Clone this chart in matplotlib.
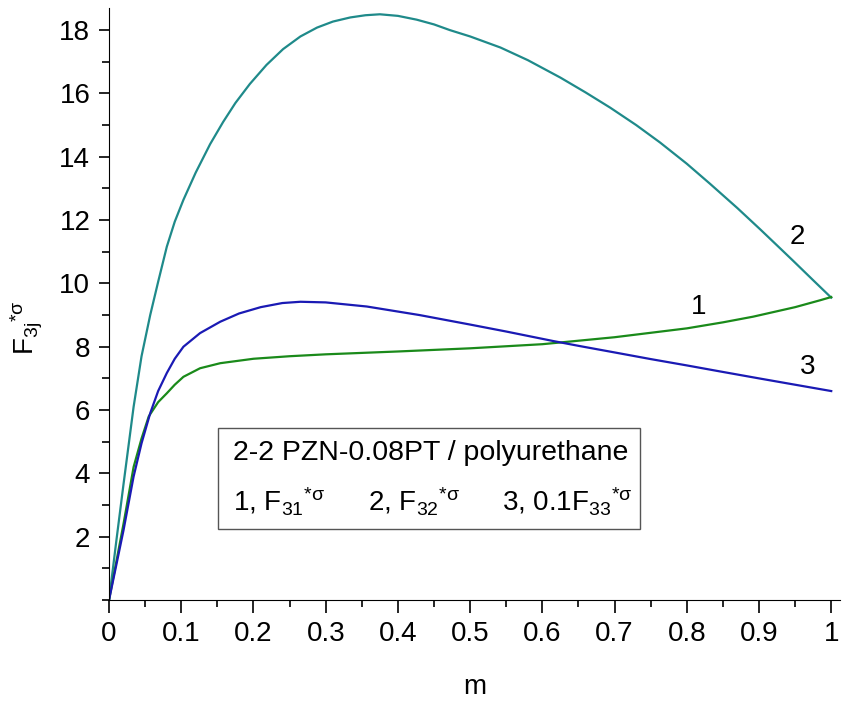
import numpy as np
import matplotlib.pyplot as plt
from matplotlib.patches import Rectangle
from matplotlib.ticker import MultipleLocator

plt.rcParams['font.family'] = 'Liberation Sans'
plt.rcParams['mathtext.fontset'] = 'custom'
plt.rcParams['mathtext.rm'] = 'Liberation Sans'
plt.rcParams['mathtext.it'] = 'Liberation Sans'
plt.rcParams['mathtext.bf'] = 'Liberation Sans:bold'

# curve 1, F31*sigma (green)
m1 = [0, 0.01, 0.02, 0.034, 0.045, 0.055, 0.068, 0.08, 0.091, 0.103, 0.126,
      0.154, 0.2, 0.25, 0.3, 0.4, 0.5, 0.6, 0.7, 0.8, 0.85, 0.892, 0.95, 0.985, 1.0]
f1 = [0, 1.2, 2.4, 4.2, 5.1, 5.8, 6.25, 6.53, 6.8, 7.05, 7.32,
      7.48, 7.62, 7.7, 7.76, 7.85, 7.95, 8.08, 8.3, 8.58, 8.77, 8.95, 9.25, 9.47, 9.57]

# curve 2, F32*sigma (teal)
m2 = [0, 0.01, 0.02, 0.034, 0.045, 0.057, 0.068, 0.08, 0.091, 0.103, 0.12,
      0.14, 0.158, 0.175, 0.195, 0.218, 0.241, 0.265, 0.288, 0.31, 0.334,
      0.355, 0.375, 0.4, 0.426, 0.45, 0.472, 0.5, 0.542, 0.58, 0.625, 0.66,
      0.694, 0.73, 0.763, 0.8, 0.832, 0.87, 0.902, 0.925, 0.947, 0.975, 1.0]
f2 = [0, 1.85, 3.65, 6.1, 7.7, 9.0, 10.05, 11.16, 11.95, 12.64, 13.5,
      14.4, 15.1, 15.7, 16.3, 16.9, 17.4, 17.8, 18.08, 18.27, 18.4,
      18.47, 18.5, 18.45, 18.33, 18.18, 18.0, 17.8, 17.45, 17.05, 16.5, 16.03,
      15.55, 15.0, 14.45, 13.78, 13.15, 12.38, 11.7, 11.2, 10.72, 10.1, 9.55]

# curve 3, 0.1F33*sigma (blue)
m3 = [0, 0.01, 0.02, 0.034, 0.045, 0.057, 0.068, 0.08, 0.091, 0.103, 0.126,
      0.154, 0.18, 0.21, 0.24, 0.265, 0.3, 0.357, 0.43, 0.5, 0.55, 0.615,
      0.652, 0.7, 0.75, 0.8, 0.846, 0.9, 0.95, 1.0]
f3 = [0, 1.1, 2.2, 3.9, 4.95, 5.9, 6.6, 7.17, 7.62, 8.0, 8.43,
      8.79, 9.05, 9.25, 9.38, 9.42, 9.4, 9.27, 9.0, 8.7, 8.48, 8.18,
      8.02, 7.82, 7.61, 7.41, 7.22, 7.0, 6.8, 6.6]

fig = plt.figure(figsize=(8.42, 7.04), dpi=100)
ax = fig.add_axes([0.1295, 0.1477, 0.868, 0.841])

ax.plot(m2, f2, color='#1f8a8a', lw=1.6)
ax.plot(m1, f1, color='#1a8a1a', lw=1.6)
ax.plot(m3, f3, color='#1a1ab4', lw=1.6)

ax.text(0.953, 11.47, '2', fontsize=20, ha='center', va='center')
ax.text(0.816, 9.26, '1', fontsize=20, ha='center', va='center')
ax.text(0.967, 7.37, '3', fontsize=20, ha='center', va='center')

ax.add_patch(Rectangle((0.149, 0.12), 0.577, 0.1705, transform=ax.transAxes,
                       fill=False, edgecolor='#555555', lw=1))
ax.text(0.17, 0.248, '2-2 PZN-0.08PT / polyurethane', transform=ax.transAxes,
        fontsize=20.5, va='center')
ax.text(0.17, 0.165, r'1, F$_{31}$$^{*\sigma}$', transform=ax.transAxes,
        fontsize=20, va='center')
ax.text(0.354, 0.165, r'2, F$_{32}$$^{*\sigma}$', transform=ax.transAxes,
        fontsize=20, va='center')
ax.text(0.537, 0.165, r'3, 0.1F$_{33}$$^{*\sigma}$', transform=ax.transAxes,
        fontsize=20, va='center')

ax.set_xlim(0, 1.012)
ax.set_ylim(0, 18.7)
ax.xaxis.set_minor_locator(MultipleLocator(0.05))
ax.yaxis.set_minor_locator(MultipleLocator(1))
ax.set_xticks(np.arange(0, 1.01, 0.1))
ax.set_xticklabels(['0', '0.1', '0.2', '0.3', '0.4', '0.5', '0.6', '0.7', '0.8', '0.9', '1'])
ax.set_yticks([2, 4, 6, 8, 10, 12, 14, 16, 18])

for s in ['top', 'right']:
    ax.spines[s].set_visible(False)
ax.tick_params(which='major', direction='out', length=9, width=1.2, labelsize=20, pad=6)
ax.tick_params(which='minor', direction='out', length=5, width=1.2)
ax.tick_params(axis='y', which='major', length=7.5)

ax.set_xlabel('m', fontsize=20)
ax.xaxis.set_label_coords(0.5, -0.125)
ax.set_ylabel(r'F$_{3j}$$^{*\sigma}$', fontsize=20)
ax.yaxis.set_label_coords(-0.088, 0.46)

fig.savefig('out.png', dpi=100)
